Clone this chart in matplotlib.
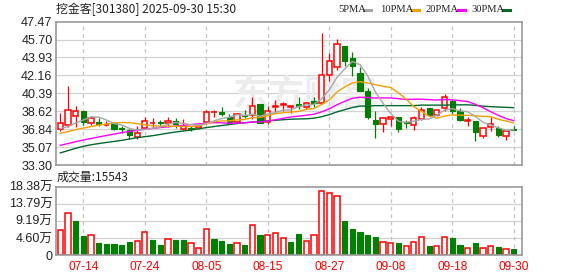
import matplotlib
matplotlib.use("Agg")
import matplotlib.pyplot as plt
from matplotlib.patches import Rectangle
from matplotlib.lines import Line2D

# ---- data (60 trading days, 2025-07-09 .. 2025-09-30) ----
opens = [36.88, 37.25, 38.14, 38.63, 37.45, 37.58, 37.22, 37.45, 36.95, 36.75,
         36.03, 36.98, 37.42, 37.58, 37.45, 37.68, 36.88, 37.00, 36.99, 37.58,
         38.50, 38.56, 38.07, 37.51, 38.27, 38.27, 39.36, 37.51, 39.06, 39.19,
         38.99, 39.33, 39.06, 39.62, 39.39, 42.16, 43.02, 45.10, 43.84, 42.43,
         40.65, 37.74, 37.32, 37.88, 38.04, 37.58, 37.21, 37.87, 38.93, 38.27,
         38.90, 39.59, 38.60, 37.68, 37.68, 36.13, 37.05, 36.95, 36.13, 36.82]
highs = [38.43, 41.07, 39.16, 38.63, 38.10, 37.97, 37.64, 37.55, 37.18, 36.85,
         37.15, 38.00, 37.90, 37.77, 38.07, 37.90, 37.84, 37.20, 37.30, 38.76,
         38.70, 38.99, 38.33, 38.43, 38.70, 39.98, 39.36, 39.10, 39.69, 39.55,
         39.20, 39.98, 39.52, 39.99, 46.38, 44.34, 45.72, 45.10, 44.44, 43.02,
         40.88, 38.67, 38.07, 38.10, 38.04, 37.77, 38.10, 39.03, 38.93, 38.76,
         40.35, 39.82, 38.90, 38.04, 37.68, 36.95, 38.04, 37.18, 36.78, 37.18]
lows = [36.62, 37.10, 37.10, 37.28, 37.25, 37.12, 37.20, 36.78, 36.46, 35.87,
        35.85, 36.88, 37.10, 37.18, 37.02, 36.95, 36.72, 36.62, 36.90, 37.38,
        38.04, 38.10, 37.38, 37.45, 37.94, 37.84, 37.45, 37.38, 38.50, 38.60,
        38.43, 38.86, 38.83, 39.00, 39.33, 41.57, 42.69, 43.08, 42.13, 40.65,
        37.81, 35.93, 36.59, 37.12, 36.52, 37.00, 36.72, 37.71, 38.17, 38.10,
        38.60, 38.37, 37.61, 37.12, 35.63, 35.93, 36.62, 36.03, 35.73, 36.75]
closes = [37.48, 38.73, 38.63, 37.54, 37.91, 37.35, 37.30, 36.88, 36.82, 36.26,
          36.49, 37.61, 37.50, 37.41, 37.68, 37.31, 37.18, 36.86, 37.18, 38.50,
          38.56, 38.37, 37.54, 38.37, 38.14, 39.13, 37.45, 38.60, 39.16, 39.36,
          39.13, 39.16, 39.39, 39.39, 42.16, 43.55, 45.29, 43.55, 43.08, 40.65,
          38.01, 37.35, 37.91, 38.04, 36.85, 37.45, 37.94, 38.76, 38.27, 38.70,
          39.98, 38.63, 37.71, 37.78, 36.52, 36.95, 37.35, 36.26, 36.62, 36.75]

ma5 = [36.90, 37.10, 37.45, 37.75, 38.06, 38.03, 37.75, 37.40, 37.25, 36.92,
       36.75, 36.81, 36.94, 37.05, 37.34, 37.50, 37.42, 37.29, 37.24, 37.41,
       37.66, 37.89, 38.03, 38.27, 38.20, 38.31, 38.13, 38.34, 38.50, 38.74,
       38.74, 39.08, 39.24, 39.29, 39.85, 40.73, 41.96, 42.79, 43.53, 43.22,
       42.12, 40.53, 39.40, 38.39, 37.63, 37.52, 37.64, 37.81, 37.85, 38.22,
       38.73, 38.87, 38.66, 38.56, 38.12, 37.52, 37.26, 36.97, 36.74, 36.79]
ma10 = [36.43, 36.60, 36.80, 36.95, 37.10, 37.25, 37.35, 37.45, 37.50, 37.49,
        37.39, 37.28, 37.17, 37.15, 37.13, 37.13, 37.11, 37.11, 37.15, 37.37,
        37.58, 37.66, 37.66, 37.76, 37.80, 37.98, 38.01, 38.18, 38.38, 38.47,
        38.53, 38.60, 38.79, 38.89, 39.29, 39.74, 40.52, 41.01, 41.41, 41.54,
        41.42, 41.24, 41.09, 40.96, 40.43, 39.82, 39.08, 38.60, 38.12, 37.93,
        38.13, 38.25, 38.23, 38.21, 38.17, 38.12, 38.07, 37.82, 37.65, 37.46]
ma20 = [35.25, 35.42, 35.60, 35.77, 35.92, 36.07, 36.22, 36.36, 36.50, 36.62,
        36.73, 36.83, 36.92, 37.00, 37.08, 37.15, 37.22, 37.30, 37.37, 37.43,
        37.49, 37.47, 37.41, 37.45, 37.47, 37.55, 37.56, 37.65, 37.77, 37.92,
        38.05, 38.13, 38.22, 38.32, 38.55, 38.86, 39.26, 39.60, 39.89, 40.00,
        39.97, 39.92, 39.94, 39.93, 39.86, 39.78, 39.80, 39.81, 39.76, 39.73,
        39.77, 39.75, 39.66, 39.58, 39.30, 38.97, 38.57, 38.21, 37.89, 37.69]
ma30 = [34.50, 34.72, 34.95, 35.15, 35.30, 35.42, 35.53, 35.63, 35.74, 35.87,
        36.00, 36.10, 36.20, 36.32, 36.45, 36.56, 36.66, 36.76, 36.88, 37.00,
        37.10, 37.20, 37.30, 37.40, 37.48, 37.55, 37.60, 37.66, 37.72, 37.78,
        37.83, 37.85, 37.87, 37.93, 38.07, 38.28, 38.55, 38.77, 38.98, 39.13,
        39.13, 39.17, 39.17, 39.17, 39.17, 39.17, 39.17, 39.22, 39.22, 39.22,
        39.22, 39.25, 39.25, 39.25, 39.20, 39.12, 39.07, 39.03, 39.00, 38.97]

# volume in 万 shares, and whether the bar is drawn red (1) or green (0)
volume = [6.65, 11.2, 9.15, 5.1, 5.3, 3.2, 2.96, 2.96, 2.7, 3.5,
          3.7, 6.1, 4.0, 2.7, 4.2, 4.0, 4.0, 3.1, 1.8, 6.9,
          4.3, 3.8, 2.96, 3.1, 2.7, 8.0, 5.4, 5.3, 5.8, 4.5,
          3.5, 5.65, 3.7, 5.3, 17.1, 16.6, 15.9, 9.15, 7.0, 6.2,
          5.4, 4.85, 3.5, 3.2, 3.2, 2.4, 3.5, 4.85, 2.4, 2.4,
          4.85, 4.6, 2.7, 1.9, 3.2, 1.9, 2.4, 2.15, 1.6, 1.55]
vol_rise = [1, 1, 0, 0, 1, 0, 0, 0, 0, 0,
            1, 1, 0, 0, 1, 0, 0, 1, 1, 1,
            0, 0, 0, 1, 0, 1, 0, 1, 1, 1,
            0, 0, 1, 1, 1, 1, 1, 0, 0, 0,
            0, 0, 1, 1, 0, 1, 1, 1, 0, 1,
            1, 0, 0, 1, 0, 1, 1, 0, 1, 0]

date_labels = ["07-14", "07-24", "08-05", "08-15", "08-27", "09-08", "09-18", "09-30"]
date_index = [3, 11, 19, 27, 35, 43, 51, 59]
price_ticks = [33.30, 35.07, 36.84, 38.62, 40.39, 42.16, 43.93, 45.70, 47.47]
vol_ticks = [0, 4.60, 9.19, 13.79, 18.38]
vol_tick_labels = ["0", "4.60万", "9.19万", "13.79万", "18.38万"]
last_volume = 15543

RED = "#ff0000"
GREEN = "#008000"
GRID = "#d2d2d2"
FRAME = "#9a9a9a"
TXT = "#222222"
CJK = ["Noto Sans CJK SC", "DejaVu Sans"]

W, H = 578, 276
fig = plt.figure(figsize=(W / 100, H / 100), dpi=100)


def fx(px):
    return px / W


def fy(py):
    return 1 - py / H


ax = fig.add_axes([fx(56), fy(165), 466 / W, 143.3 / H])
axv = fig.add_axes([fx(56), fy(255), 466 / W, 68.3 / H])

n = len(closes)
xs = list(range(n))
bw = 0.68

for a in (ax, axv):
    a.set_xlim(-0.56, 60.08)
    for s in a.spines.values():
        s.set_color(FRAME)
        s.set_linewidth(1.2)
    for d in date_index:
        a.axvline(d, color="#c4c4c4", lw=0.9, ls=(0, (3, 3)), zorder=0.6)
    a.tick_params(length=0, labelsize=9, colors=TXT, pad=2.5)

# ---- price panel ----
ax.set_ylim(price_ticks[0], price_ticks[-1])
for t in price_ticks[1:-1]:
    ax.axhline(t, color=GRID, lw=0.9, zorder=0.5)
ax.set_yticks(price_ticks)
ax.set_yticklabels([f"{t:.2f}" for t in price_ticks], family="Liberation Sans")
ax.set_xticks([])

ax.text(fx(305), fy(95), "东方财富", transform=fig.transFigure, ha="center", va="center",
        fontsize=26, fontweight="bold", color="#ececec", family=CJK, zorder=0.55)

for i in xs:
    o, h, l, c = opens[i], highs[i], lows[i], closes[i]
    top, bot = max(o, c), min(o, c)
    if top - bot < 0.05:
        top = bot + 0.05
    if c >= o:
        ax.vlines(i, top, h, color=RED, lw=0.9, zorder=2)
        ax.vlines(i, l, bot, color=RED, lw=0.9, zorder=2)
        ax.add_patch(Rectangle((i - bw / 2, bot), bw, top - bot, facecolor="white",
                               edgecolor=RED, lw=1.1, zorder=2))
    else:
        ax.vlines(i, l, h, color=GREEN, lw=0.9, zorder=2)
        ax.add_patch(Rectangle((i - bw / 2, bot), bw, top - bot, facecolor=GREEN,
                               edgecolor=GREEN, lw=0.8, zorder=2))

ax.plot(xs, ma30, color="#006a2e", lw=1.0, zorder=3)
ax.plot(xs, ma20, color="#ff00ff", lw=1.0, zorder=3)
ax.plot(xs, ma10, color="#f5a000", lw=1.0, zorder=3)
ax.plot(xs, ma5, color="#a8a8a8", lw=1.0, zorder=3)

# ---- volume panel ----
axv.set_ylim(0, vol_ticks[-1])
for t in vol_ticks[1:-1]:
    axv.axhline(t, color=GRID, lw=0.9, zorder=0.5)
axv.set_yticks(vol_ticks)
axv.set_yticklabels(vol_tick_labels, family=["Liberation Sans", "Noto Sans CJK SC"])
for i in xs:
    if vol_rise[i]:
        axv.add_patch(Rectangle((i - bw / 2, 0), bw, volume[i], facecolor="white",
                                edgecolor=RED, lw=1.1, zorder=2))
    else:
        axv.add_patch(Rectangle((i - bw / 2, 0), bw, volume[i], facecolor=GREEN,
                                edgecolor=GREEN, lw=0.8, zorder=2))
axv.set_xticks(date_index)
axv.set_xticklabels(date_labels, family="Liberation Sans", fontsize=8.6)
axv.tick_params(axis="x", colors=RED, pad=4)

# ---- texts ----
fig.text(fx(56), fy(9.5), "挖金客[301380] 2025-09-30 15:30", fontsize=8.6, family=CJK,
         color=TXT, ha="left", va="center")
fig.text(fx(57), fy(177.5), f"成交量:{last_volume}", fontsize=8.6, family=CJK,
         color=TXT, ha="left", va="center")

legend = [("5PMA", "#a8a8a8", 338.5), ("10PMA", "#f5a000", 380),
          ("20PMA", "#ff00ff", 426), ("30PMA", "#006a2e", 471)]
for name, col, x0 in legend:
    t = fig.text(fx(x0), fy(9.5), name, fontsize=7.6, family="Liberation Serif",
                 color=TXT, ha="left", va="center")
for name, col, x0 in legend:
    xe = x0 + {4: 25.5, 5: 32}[len(name)]
    fig.add_artist(Line2D([fx(xe), fx(xe + 7)], [fy(10), fy(10)], color=col, lw=2.2,
                          transform=fig.transFigure))

fig.savefig("out.png", dpi=100)
